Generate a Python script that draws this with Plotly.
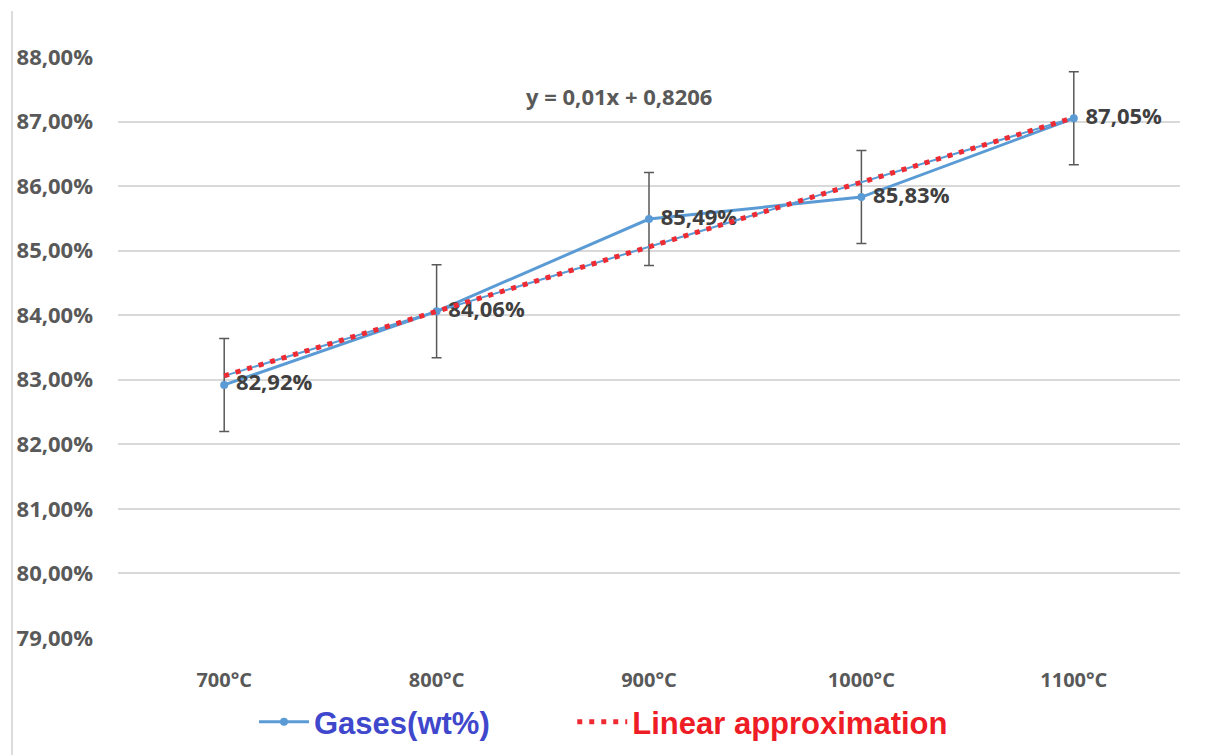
import plotly.graph_objects as go

categories = ["700°C", "800°C", "900°C", "1000°C", "1100°C"]
gases = [0.8292, 0.8406, 0.8549, 0.8583, 0.8705]
gases_err = [0.0072, 0.0072, 0.0072, 0.0072, 0.0072]
trend_slope = 0.01
trend_intercept = 0.8206
equation_text = "y = 0,01x + 0,8206"
y_ticks = [0.79, 0.80, 0.81, 0.82, 0.83, 0.84, 0.85, 0.86, 0.87, 0.88]

trend = [trend_slope * (i + 1) + trend_intercept for i in range(len(categories))]

BLUE = "#5b9bd5"
RED = "#ee2a33"
TXT = "#595959"
PAD = "&nbsp;" * 9

fig = go.Figure()

fig.add_trace(go.Scatter(
    x=categories, y=gases, mode="lines+markers+text",
    name="<span style='color:#3f48cc'>Gases(wt%)" + PAD + "</span>",
    line=dict(color=BLUE, width=3), marker=dict(color=BLUE, size=8),
    error_y=dict(type="data", array=gases_err, visible=True, color="#595959", thickness=1.5, width=5),
    texttemplate=" %{y:.2%}", textposition="middle right",
    textfont=dict(family="Open Sans", size=22, color="#404040", weight="bold"),
    cliponaxis=False,
))

fig.add_trace(go.Scatter(
    x=categories, y=trend, mode="lines", showlegend=False, hoverinfo="skip",
    line=dict(color=BLUE, width=2),
))
fig.add_trace(go.Scatter(
    x=categories, y=trend, mode="lines",
    name="<span style='color:#ee1c24'>Linear approximation</span>",
    line=dict(color=RED, width=5, dash="5px,7px"),
))

fig.add_annotation(
    x=0.4718, y=0.933, xref="paper", yref="paper", text=equation_text, showarrow=False,
    xanchor="center", yanchor="middle",
    font=dict(family="Open Sans", size=22, color=TXT, weight="bold"),
)

for xp in (-0.0998, 1.0245):
    fig.add_shape(type="line", xref="paper", yref="paper", x0=xp, x1=xp, y0=-0.25, y1=1.079,
                  line=dict(color="#dcdcdc", width=2))

fig.update_layout(
    width=1200, height=747,
    margin=dict(l=110, r=28, t=49, b=117, autoexpand=False),
    paper_bgcolor="white", plot_bgcolor="white",
    separators=",.",
    showlegend=True,
    legend=dict(orientation="h", xref="container", yref="container",
                x=0.205, xanchor="left", y=0.044, yanchor="middle",
                font=dict(family="Liberation Sans", size=31, weight="bold"),
                itemwidth=50, traceorder="normal"),
    xaxis=dict(type="category", range=[-0.5, 4.5], showgrid=False, showline=False, zeroline=False,
               ticks="", ticklabelstandoff=28, automargin=False,
               tickfont=dict(family="Open Sans", size=20, color=TXT, weight="bold")),
    yaxis=dict(range=[0.79, 0.88], tickvals=y_ticks, tickformat=".2%", automargin=False,
               showgrid=True, gridcolor="#d9d9d9", gridwidth=1.5, zeroline=False, showline=False,
               ticks="", ticklabelstandoff=24,
               tickfont=dict(family="Open Sans", size=22, color=TXT, weight="bold")),
)

fig.write_html("out.html")
